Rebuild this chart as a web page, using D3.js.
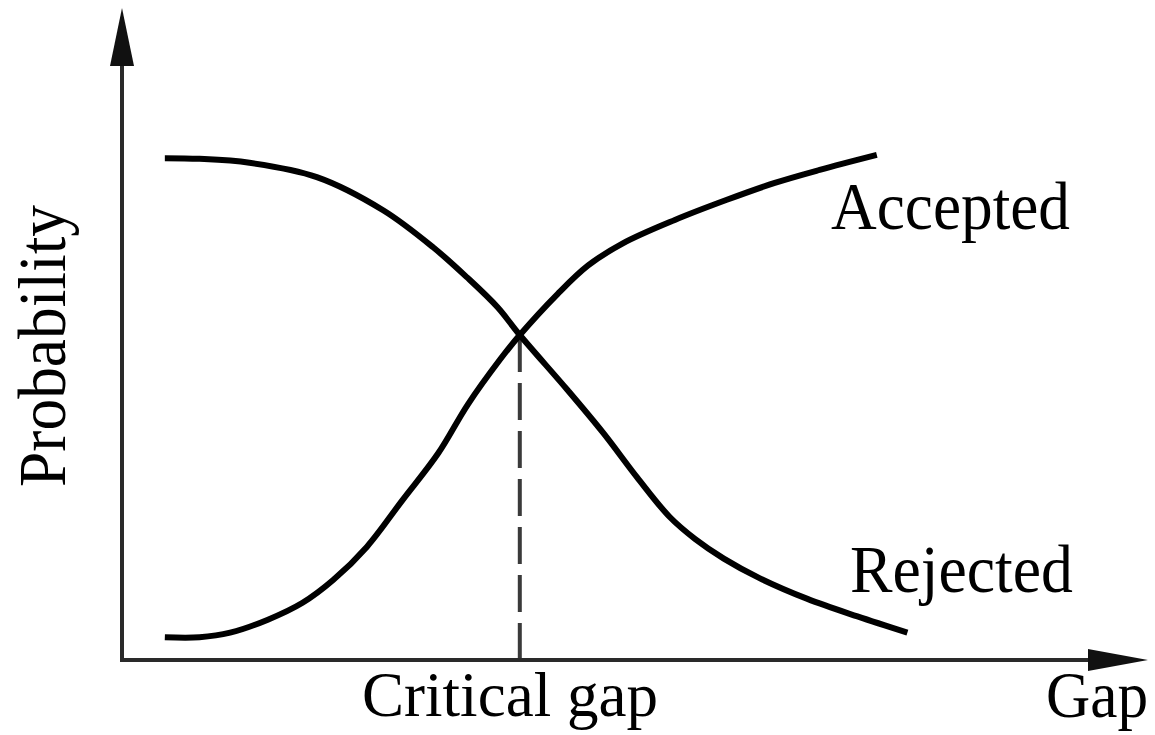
<!DOCTYPE html>
<html>
<head>
<meta charset="utf-8">
<script src="https://cdn.jsdelivr.net/npm/d3@7"></script>
<style>
  html, body { margin: 0; padding: 0; background: #fff; }
  svg { display: block; }
  text { font-family: "Liberation Serif", "Times New Roman", serif; fill: #000; }
</style>
</head>
<body>
<svg id="chart" width="1155" height="735"></svg>
<script>
// ---- data (gap in arbitrary units, probability 0..1) ----
const rejectedGap  = [0.42, 0.76, 1.25, 1.91, 2.56, 3.05, 3.38, 3.68, 3.90, 4.37, 4.72, 5.05, 5.37, 5.62, 5.90, 6.25, 6.72, 7.21, 7.70];
const rejectedProb = [0.772, 0.771, 0.765, 0.743, 0.692, 0.635, 0.589, 0.543, 0.500, 0.415, 0.349, 0.281, 0.220, 0.186, 0.156, 0.126, 0.094, 0.067, 0.042];
const acceptedGap  = [0.42, 0.76, 1.06, 1.43, 1.77, 2.07, 2.40, 2.75, 3.10, 3.39, 3.71, 3.90, 4.27, 4.57, 4.91, 5.42, 5.93, 6.40, 6.84, 7.40];
const acceptedProb = [0.035, 0.035, 0.042, 0.062, 0.088, 0.123, 0.174, 0.246, 0.318, 0.393, 0.463, 0.500, 0.563, 0.607, 0.641, 0.677, 0.708, 0.734, 0.754, 0.777];
const criticalGap = 3.90;
const criticalProb = 0.5;
const labels = { accepted: "Accepted", rejected: "Rejected", critical: "Critical gap", xTitle: "Gap", yTitle: "Probability" };

const svg = d3.select("#chart");
const x = d3.scaleLinear().domain([0, 10]).range([122, 1142]);
const y = d3.scaleLinear().domain([0, 1]).range([660, 10]);

const line = d3.line().x(d => x(d[0])).y(d => y(d[1])).curve(d3.curveCatmullRom.alpha(0.5));
const rejected = rejectedGap.map((g, i) => [g, rejectedProb[i]]);
const accepted = acceptedGap.map((g, i) => [g, acceptedProb[i]]);

// dashed critical gap line (drawn from the axis upward)
svg.append("line")
  .attr("x1", x(criticalGap)).attr("x2", x(criticalGap))
  .attr("y1", y(0)).attr("y2", y(criticalProb))
  .attr("stroke", "#3a3a3a").attr("stroke-width", 4)
  .attr("stroke-dasharray", "37 11");

// axes
const x0 = x.range()[0], y0 = y.range()[0];
svg.append("line").attr("x1", x0 - 2).attr("x2", 1100).attr("y1", y0).attr("y2", y0)
  .attr("stroke", "#2a2a2a").attr("stroke-width", 4);
svg.append("line").attr("x1", x0).attr("x2", x0).attr("y1", y0 + 2).attr("y2", 50)
  .attr("stroke", "#2a2a2a").attr("stroke-width", 4);
// arrowheads
svg.append("path")
  .attr("d", `M${x0},8 L${x0 + 12},66 L${x0 - 12},66 Z`).attr("fill", "#111");
svg.append("path")
  .attr("d", `M1148,${y0} L1088,${y0 - 11} L1088,${y0 + 11} Z`).attr("fill", "#111");

// curves
[rejected, accepted].forEach(d => {
  svg.append("path").datum(d).attr("d", line)
    .attr("fill", "none").attr("stroke", "#000").attr("stroke-width", 6);
});

// labels
function label(t, px, py, len, opts = {}) {
  const el = svg.append("text").text(t)
    .attr("x", px).attr("y", py)
    .attr("font-size", opts.size || 66)
    .attr("textLength", len).attr("lengthAdjust", "spacingAndGlyphs");
  if (opts.anchor) el.attr("text-anchor", opts.anchor);
  if (opts.transform) el.attr("transform", opts.transform);
  return el;
}
label(labels.accepted, 831, 229, 239, { size: 68 });
label(labels.rejected, 850, 592, 223, { size: 68 });
label(labels.critical, 362, 716, 296, { size: 64 });
label(labels.xTitle, 1046, 717, 102, { size: 66 });
label(labels.yTitle, 0, 0, 282, { size: 68, anchor: "middle", transform: "translate(65,346) rotate(-90)" });
</script>
</body>
</html>
